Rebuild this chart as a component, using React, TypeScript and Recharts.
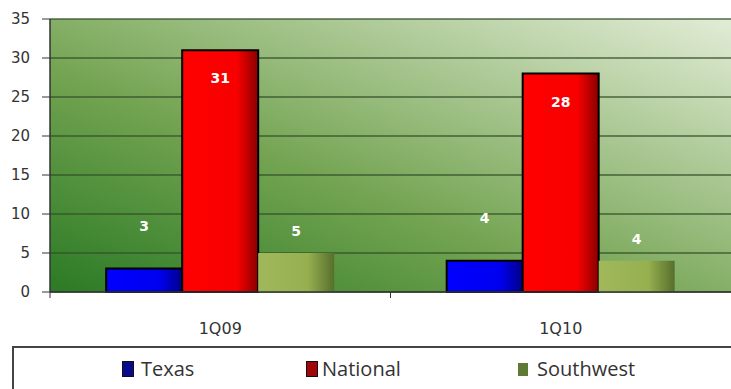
import { BarChart, Bar, XAxis, YAxis, CartesianGrid, Legend, LabelList } from 'recharts'

const quarters = ['1Q09', '1Q10']
const texas = [3, 4]
const national = [31, 28]
const southwest = [5, 4]
const yTicks = [0, 5, 10, 15, 20, 25, 30, 35]

const data = quarters.map((q, i) => ({
  quarter: q,
  Texas: texas[i],
  National: national[i],
  Southwest: southwest[i]
}))

const legendItems = [
  { name: 'Texas', color: '#0a0a8c', border: true, left: 108, gap: 7 },
  { name: 'National', color: '#a00808', border: true, left: 292, gap: 4 },
  { name: 'Southwest', color: '#5f7a35', border: false, left: 504, gap: 9 }
]

// value labels sit at a fixed offset from the bar top, per series
const makeLabel = (dy: number) => (props: any) => {
  const { x, y, width, value } = props
  return (
    <text
      x={x + width / 2}
      y={y + dy}
      textAnchor="middle"
      dominantBaseline="central"
      fill="#ffffff"
      style={{ fontSize: 14, fontWeight: 'bold', fontFamily: 'DejaVu Sans, sans-serif' }}
    >
      {value}
    </text>
  )
}

// category label plus a small tick at the left edge of each band
const XTick = (props: any) => {
  const { x, y, payload } = props
  const half = payload.offset || 0
  const axisY = y - 8
  return (
    <g>
      <line x1={x - half} y1={axisY} x2={x - half} y2={axisY + 6} stroke="#333" />
      <text
        x={x}
        y={axisY + 36}
        textAnchor="middle"
        dominantBaseline="central"
        fill="#333"
        style={{ fontSize: 16, fontFamily: 'DejaVu Sans, sans-serif' }}
      >
        {payload.value}
      </text>
    </g>
  )
}

const LegendBox = () => (
  <div
    style={{
      position: 'relative',
      width: 730,
      height: 50,
      border: '2px solid #444',
      boxSizing: 'border-box',
      background: '#fff',
      fontFamily: 'Open Sans, sans-serif',
      fontSize: 20,
      color: '#333'
    }}
  >
    {legendItems.map((it) => (
      <div
        key={it.name}
        style={{ position: 'absolute', left: it.left, top: 9, height: 24, display: 'flex', alignItems: 'center' }}
      >
        <span
          style={{
            display: 'inline-block',
            width: it.border ? 12 : 10,
            height: it.border ? 16 : 13,
            background: it.color,
            border: it.border ? '1px solid #111' : 'none',
            boxSizing: 'border-box',
            marginRight: it.gap
          }}
        />
        <span style={{ lineHeight: '24px' }}>{it.name}</span>
      </div>
    ))}
  </div>
)

export default function App() {
  return (
    <div style={{ width: 731, height: 389, position: 'relative', overflow: 'hidden', background: '#fff' }}>
      <style>{'body{margin:0}'}</style>
      <BarChart
        width={731}
        height={389}
        data={data}
        margin={{ top: 19, right: 0, bottom: 67, left: 0 }}
        barCategoryGap="16.5%"
        barGap={0}
      >
        <defs>
          <linearGradient id="plotBg" x1="0" y1="1" x2="1" y2="0">
            <stop offset="0%" stopColor="#2b7a25" />
            <stop offset="40%" stopColor="#72a350" />
            <stop offset="100%" stopColor="#e2ecd6" />
          </linearGradient>
          <linearGradient id="texasFill" x1="0" y1="0" x2="1" y2="0">
            <stop offset="0%" stopColor="#0000ff" />
            <stop offset="70%" stopColor="#0000f0" />
            <stop offset="100%" stopColor="#00008a" />
          </linearGradient>
          <linearGradient id="nationalFill" x1="0" y1="0" x2="1" y2="0">
            <stop offset="0%" stopColor="#ff0000" />
            <stop offset="72%" stopColor="#f80000" />
            <stop offset="100%" stopColor="#8a0000" />
          </linearGradient>
          <linearGradient id="southwestFill" x1="0" y1="0" x2="1" y2="0">
            <stop offset="0%" stopColor="#a0b85a" />
            <stop offset="65%" stopColor="#96b050" />
            <stop offset="100%" stopColor="#566f2c" />
          </linearGradient>
        </defs>
        <CartesianGrid
          vertical={false}
          fill="url(#plotBg)"
          stroke="#34502a"
          strokeOpacity={0.85}
          strokeWidth={1.5}
        />
        <XAxis
          dataKey="quarter"
          tick={<XTick />}
          tickLine={false}
          axisLine={{ stroke: '#333', strokeWidth: 1.5 }}
          interval={0}
        />
        <YAxis
          domain={[0, 35]}
          ticks={yTicks}
          width={50}
          tickSize={8}
          tickMargin={12}
          tick={{ fill: '#333', fontSize: 15, fontFamily: 'DejaVu Sans, sans-serif' }}
          axisLine={{ stroke: '#333', strokeWidth: 1.5 }}
          tickLine={{ stroke: '#333' }}
        />
        <Legend
          verticalAlign="middle"
          align="center"
          layout="horizontal"
          content={<LegendBox />}
          wrapperStyle={{ left: 12, top: 346, width: 730 }}
        />
        <Bar dataKey="Texas" fill="url(#texasFill)" stroke="#000" strokeWidth={2} isAnimationActive={false}>
          <LabelList dataKey="Texas" content={makeLabel(-43)} />
        </Bar>
        <Bar dataKey="National" fill="url(#nationalFill)" stroke="#000" strokeWidth={2} isAnimationActive={false}>
          <LabelList dataKey="National" content={makeLabel(28)} />
        </Bar>
        <Bar dataKey="Southwest" fill="url(#southwestFill)" isAnimationActive={false}>
          <LabelList dataKey="Southwest" content={makeLabel(-22)} />
        </Bar>
      </BarChart>
    </div>
  )
}
